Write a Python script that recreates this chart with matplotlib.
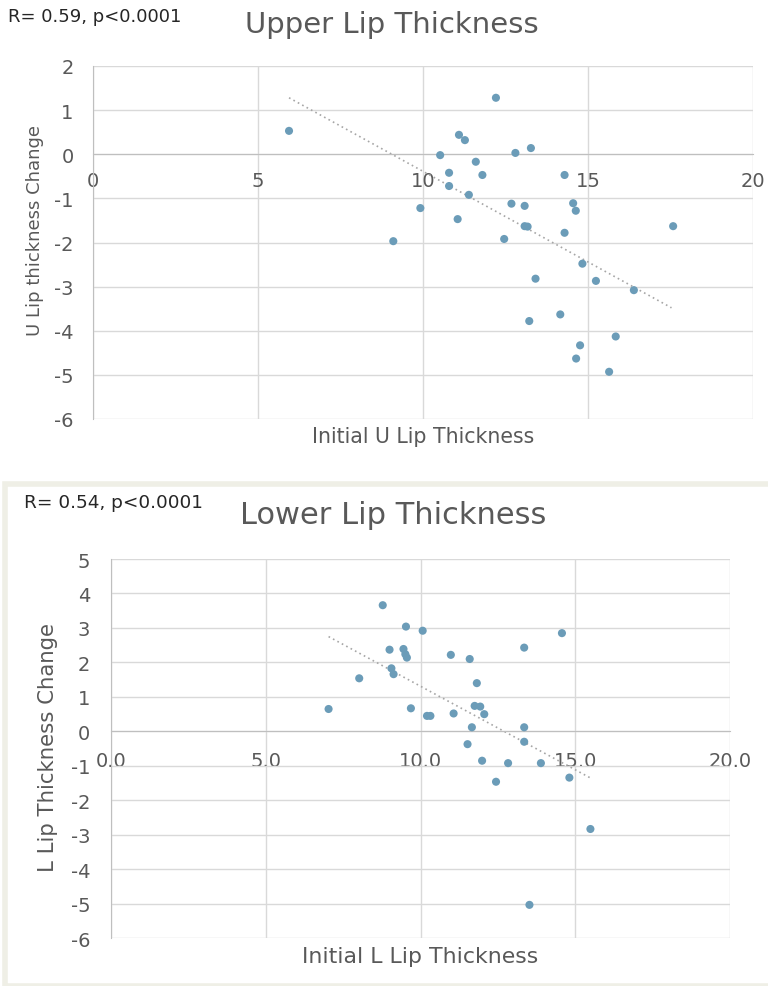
import matplotlib
matplotlib.use("Agg")
import matplotlib.pyplot as plt
from matplotlib.patches import Rectangle

plt.rcParams['font.family'] = ['DejaVu Sans']
plt.rcParams['axes.unicode_minus'] = False

# Upper lip data
upper_initial = [5.94, 11.09, 11.27, 10.52, 11.6, 10.79, 11.8, 10.79, 11.39, 9.92,
                 11.05, 9.1, 12.8, 13.27, 14.29, 12.68, 13.08, 14.55, 14.63, 13.08,
                 13.17, 17.58, 14.29, 12.46, 14.83, 13.41, 15.24, 16.39, 14.16, 13.22,
                 15.84, 14.76, 14.64, 15.64, 12.21]
upper_change = [0.53, 0.44, 0.32, -0.02, -0.17, -0.42, -0.47, -0.72, -0.92, -1.22,
                -1.47, -1.97, 0.03, 0.14, -0.47, -1.12, -1.17, -1.11, -1.28, -1.63,
                -1.64, -1.63, -1.78, -1.92, -2.48, -2.82, -2.87, -3.08, -3.63, -3.78,
                -4.13, -4.33, -4.63, -4.93, 1.28]
upper_trend_x = [5.94, 17.53]
upper_trend_y = [1.28, -3.48]

# Lower lip data
lower_initial = [8.78, 9.53, 10.07, 14.57, 13.35, 9.0, 9.45, 9.51, 9.56, 10.98,
                 11.59, 9.06, 9.13, 8.02, 11.82, 7.03, 9.69, 10.21, 10.32, 11.07,
                 11.75, 11.93, 12.06, 11.66, 13.35, 11.52, 13.35, 11.99, 12.83, 13.89,
                 14.81, 12.44, 15.49, 13.52]
lower_change = [3.66, 3.04, 2.92, 2.85, 2.43, 2.37, 2.39, 2.24, 2.14, 2.22,
                2.1, 1.83, 1.66, 1.54, 1.4, 0.65, 0.67, 0.45, 0.45, 0.52,
                0.74, 0.72, 0.5, 0.12, 0.12, -0.37, -0.3, -0.85, -0.92, -0.92,
                -1.34, -1.46, -2.83, -5.03]
lower_trend_x = [7.03, 15.49]
lower_trend_y = [2.75, -1.35]

upper_xticks = [0, 5, 10, 15, 20]
upper_xlabels = ['0', '5', '10', '15', '20']
upper_yticks = [2, 1, 0, -1, -2, -3, -4, -5, -6]
lower_xticks = [0, 5, 10, 15, 20]
lower_xlabels = ['0.0', '5.0', '10.0', '15.0', '20.0']
lower_yticks = [5, 4, 3, 2, 1, 0, -1, -2, -3, -4, -5, -6]

W, H = 768, 987
fig = plt.figure(figsize=(W / 100, H / 100), dpi=100)
fig.patch.set_facecolor('white')

TXT = '#595959'
GRID = '#d9d9d9'
AX0 = '#bfbfbf'
DOT = '#6b9cb8'

# frame around lower chart
fig.patches.append(Rectangle((5 / W, 0), 1.0, (987 - 485) / H, transform=fig.transFigure,
                             facecolor='none', edgecolor='#efefe6', linewidth=4, zorder=0))


def make(ax, xs, ys, tx, ty, xticks, xlabels, yticks, ylim, xpad, ypad):
    ax.set_xlim(0, 20)
    ax.set_ylim(*ylim)
    ax.set_xticks(xticks)
    ax.set_xticklabels(xlabels)
    ax.set_yticks(yticks)
    ax.grid(True, color=GRID, linewidth=1.0)
    ax.set_axisbelow(True)
    for s in ['top', 'right']:
        ax.spines[s].set_visible(False)
    ax.spines['left'].set_color(AX0)
    ax.spines['bottom'].set_position(('data', 0))
    ax.spines['bottom'].set_color(AX0)
    ax.tick_params(axis='both', length=0, labelsize=14, colors=TXT)
    ax.tick_params(axis='x', pad=xpad)
    ax.tick_params(axis='y', pad=ypad)
    ax.scatter(xs, ys, s=34, color=DOT, edgecolors='none', zorder=3)
    ax.plot(tx, ty, linestyle=(0, (1, 2)), color='#a6a6a6', linewidth=1.2, zorder=2)


ax1 = fig.add_axes([93 / W, 1 - 420 / H, (753 - 93) / W, (420 - 67) / H])
make(ax1, upper_initial, upper_change, upper_trend_x, upper_trend_y,
     upper_xticks, upper_xlabels, upper_yticks, (-6, 2), 12, 14)

ax2 = fig.add_axes([111 / W, 1 - 939.3 / H, (730 - 111) / W, (939.3 - 560) / H])
make(ax2, lower_initial, lower_change, lower_trend_x, lower_trend_y,
     lower_xticks, lower_xlabels, lower_yticks, (-6, 5), 14, 15)

fig.text(392 / W, 1 - 25 / H, 'Upper Lip Thickness', ha='center', va='center',
         fontsize=21, color=TXT)
fig.text(8 / W, 1 - 17 / H, 'R= 0.59, p<0.0001', ha='left', va='center',
         fontsize=13, color='#262626')
fig.text(35 / W, 1 - 231 / H, 'U Lip thickness Change', ha='center', va='center',
         rotation=90, fontsize=13, color=TXT)
fig.text(423 / W, 1 - 437 / H, 'Initial U Lip Thickness', ha='center', va='center',
         fontsize=14.8, color=TXT)

fig.text(393 / W, 1 - 515 / H, 'Lower Lip Thickness', ha='center', va='center',
         fontsize=22, color=TXT)
fig.text(24 / W, 1 - 503 / H, 'R= 0.54, p<0.0001', ha='left', va='center',
         fontsize=13.3, color='#262626')
fig.text(48 / W, 1 - 748 / H, 'L Lip Thickness Change', ha='center', va='center',
         rotation=90, fontsize=15.3, color=TXT)
fig.text(420 / W, 1 - 957 / H, 'Initial L Lip Thickness', ha='center', va='center',
         fontsize=15.8, color=TXT)

fig.savefig('out.png', dpi=100, facecolor='white')
